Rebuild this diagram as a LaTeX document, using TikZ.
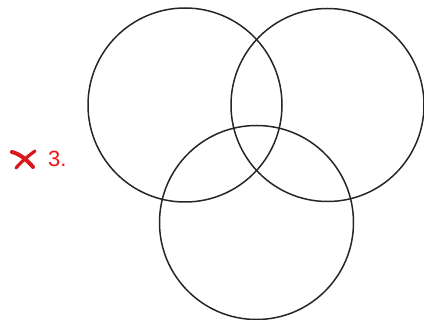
\documentclass[tikz,border=0pt]{standalone}
\usepackage{fontspec}
\setmainfont{Liberation Sans}
\definecolor{markred}{RGB}{215,25,30}
\definecolor{textred}{RGB}{240,20,20}
\begin{document}
\begin{tikzpicture}[x=1pt,y=-1pt,
  venn/.style={draw=black!85,line width=1.5pt},
  stroke/.style={markred,line width=4pt,line cap=round}]
\useasboundingbox (0,0) rectangle (424,320);
\node[venn,circle,minimum size=194pt,inner sep=0pt] (c1) at (185,105) {};
\node[venn,circle,minimum size=193pt,inner sep=0pt] (c2) at (327.5,105) {};
\node[venn,circle,minimum size=194pt,inner sep=0pt] (c3) at (256.5,222.5) {};
% red cross mark
\coordinate (xa) at (12,152);
\coordinate (xb) at (33,167);
\coordinate (xc) at (35,151);
\coordinate (xd) at (16,168);
\draw[stroke] (xa) .. controls (20,154) and (27,160) .. (xb);
\draw[stroke,line width=3.2pt] (xc) .. controls (28,156) and (21,162) .. (xd);
\node[textred,font=\fontsize{22}{24}\selectfont,anchor=west,inner sep=0pt] (lbl) at (48,159) {3.};
\end{tikzpicture}
\end{document}
